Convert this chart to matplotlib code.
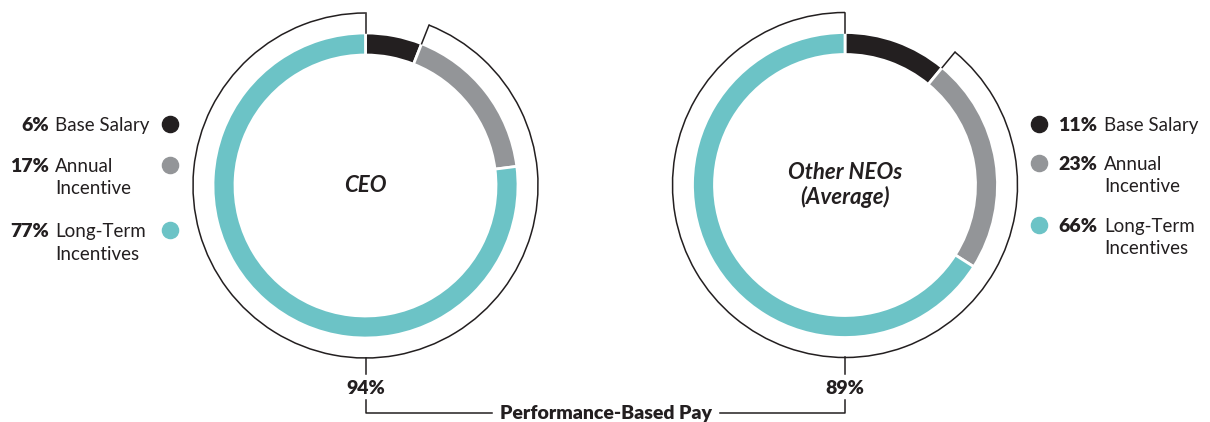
import numpy as np
import matplotlib.pyplot as plt
from matplotlib.patches import Arc

plt.rcParams['font.family'] = ['Lato', 'DejaVu Sans']

# pay mix data
components = ["Base Salary", "Annual\nIncentive", "Long-Term\nIncentives"]
ceo_mix = [6, 17, 77]
neo_mix = [11, 23, 66]
ceo_perf = 94
neo_perf = 89
colors = ["#231F20", "#939598", "#6CC3C6"]
dark = "#231F20"

W, H = 1210, 422
fig = plt.figure(figsize=(W / 100, H / 100), dpi=100)
ax = fig.add_axes([0, 0, 1, 1])


def Y(py):
    return H - py


def donut(cx, cy, mix, title, r=152.5, width=22, r_out=172.5):
    ax.pie(mix, colors=colors, center=(cx, Y(cy)), radius=r, startangle=90,
           counterclock=False, frame=True,
           wedgeprops=dict(width=width, edgecolor="white", linewidth=2))
    # bracket around the performance-based part
    start = 90 - mix[0] * 3.6
    ax.add_patch(Arc((cx, Y(cy)), 2 * r_out, 2 * r_out, theta1=90, theta2=start + 360,
                     color=dark, lw=1.1))
    for a in (90, start):
        t = np.deg2rad(a)
        ax.plot([cx + r * np.cos(t), cx + r_out * np.cos(t)],
                [Y(cy) + r * np.sin(t), Y(cy) + r_out * np.sin(t)], color=dark, lw=1.1)
    ax.text(cx, Y(cy), title, ha="center", va="center", fontsize=16,
            fontweight="bold", style="italic", color=dark, linespacing=1.15)


def legend_row(x_pct, x_lab, ha_pct, y, v, lab):
    ax.text(x_pct, Y(y + 1.5), f"{v}%", ha=ha_pct, va="center", fontsize=14,
            fontweight="heavy", color=dark)
    for k, line in enumerate(lab.split("\n")):
        ax.text(x_lab, Y(y + 1.5 + 22.5 * k), line, ha="left", va="center", fontsize=13.5,
                color=dark)


donut(365.5, 185.5, ceo_mix, "CEO")
donut(845, 185, neo_mix, "Other NEOs\n(Average)")

# left legend (CEO)
left_rows = [124, 165, 230]
for i, (lab, v) in enumerate(zip(components, ceo_mix)):
    legend_row(49, 55, "right", left_rows[i], v, lab)
    ax.scatter(170, Y(left_rows[i]), s=135, color=colors[i], zorder=3)

# right legend (NEOs)
right_rows = [124, 163, 225]
for i, (lab, v) in enumerate(zip(components, neo_mix)):
    legend_row(1058, 1104, "left", right_rows[i], v, lab)
    ax.scatter(1039, Y(right_rows[i]), s=135, color=colors[i], zorder=3)

# performance based pay connector
lw = 1.1
ax.plot([365.5, 365.5], [Y(358), Y(374)], color=dark, lw=lw)
ax.plot([845, 845], [Y(357), Y(374)], color=dark, lw=lw)
ax.plot([365.5, 365.5, 492], [Y(400), Y(413), Y(413)], color=dark, lw=lw)
ax.plot([720, 845, 845], [Y(413), Y(413), Y(400)], color=dark, lw=lw)
ax.text(365.5, Y(389), f"{ceo_perf}%", ha="center", va="center", fontsize=14,
        fontweight="heavy", color=dark)
ax.text(845, Y(389), f"{neo_perf}%", ha="center", va="center", fontsize=14,
        fontweight="heavy", color=dark)
ax.text(606, Y(414), "Performance-Based Pay", ha="center", va="center", fontsize=14,
        fontweight="heavy", color=dark)

ax.set_xlim(0, W)
ax.set_ylim(0, H)
ax.set_aspect("equal")
ax.axis("off")

fig.savefig("out.png", dpi=100)
